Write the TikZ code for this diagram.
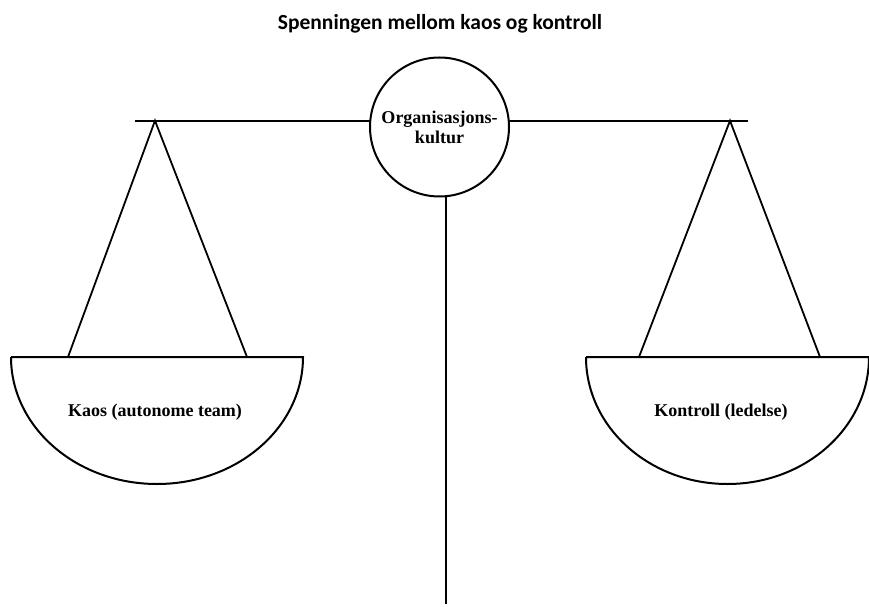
\documentclass[tikz,border=0pt]{standalone}
\usepackage{fontspec}
\setmainfont{Liberation Serif}
\newfontfamily\titlefont{Carlito}
\begin{document}
\begin{tikzpicture}[x=1pt,y=1pt,
  bar/.style={line width=2pt, line cap=butt},
  thread/.style={line width=1.8pt},
  label/.style={font=\fontsize{18}{20}\selectfont\bfseries, align=center, inner sep=0pt},
  heading/.style={font=\titlefont\fontsize{21.5}{24}\selectfont\bfseries, inner sep=0pt}]
  \useasboundingbox (0,0) rectangle (869,606);

  % heading
  \node[heading] (title) at (440,582) {Spenningen mellom kaos og kontroll};

  % pivot
  \node[draw, circle, line width=2pt, minimum size=139pt, inner sep=0pt, label] (org) at (439.5,479) {Organisasjons-\\kultur};

  % beam and post
  \coordinate (beamL) at (135,485.3);
  \coordinate (beamR) at (748,485.3);
  \coordinate (postTop) at (446,410.3);
  \coordinate (postBot) at (446,2);
  \draw[bar] (beamL) -- (370.3,485.3);
  \draw[bar] (508.7,485.3) -- (beamR);
  \draw[bar] (postTop) -- (postBot);

  % hanging points and pan rims
  \coordinate (apexL) at (155,485.3);
  \coordinate (apexR) at (730,485.3);
  \coordinate (rimLa) at (68,249);
  \coordinate (rimLb) at (247,249);
  \coordinate (rimRa) at (639,249);
  \coordinate (rimRb) at (820,249);
  \draw[thread] (rimLa) -- (apexL) -- (rimLb);
  \draw[thread] (rimRa) -- (apexR) -- (rimRb);

  % left pan
  \draw[bar] (11,249) -- (303,249) arc[start angle=0, end angle=-180, x radius=146pt, y radius=127pt];
  % right pan
  \draw[bar] (586,249) -- (869,249) arc[start angle=0, end angle=-180, x radius=141.5pt, y radius=127pt];

  \node[label] (kaos) at (155,194) {Kaos (autonome team)};
  \node[label] (kontroll) at (721,194) {Kontroll (ledelse)};
\end{tikzpicture}
\end{document}
